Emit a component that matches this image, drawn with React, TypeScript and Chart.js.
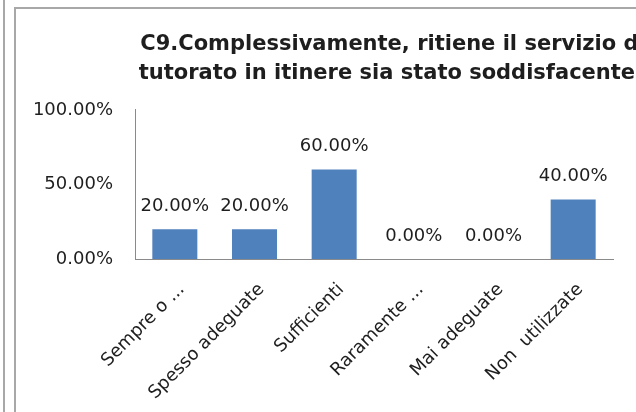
import React, { useEffect, useRef } from "react";
import { Chart, registerables } from "chart.js";

Chart.register(...registerables);

const titleLines = [
  "C9.Complessivamente, ritiene il servizio di",
  "tutorato in itinere sia stato soddisfacente?",
];
const categories = [
  "Sempre o ...",
  "Spesso adeguate",
  "Sufficienti",
  "Raramente ...",
  "Mai adeguate",
  "Non  utilizzate",
];
const values = [0.2, 0.2, 0.6, 0, 0, 0.4];
const yTicks = [0, 0.5, 1];

const CANVAS_W = 786;
const CANVAS_H = 430;
const TEXT = "#1e1e1e";
const AXIS = "#8a8a8a";
const BAR = "#4F81BD";
const FONT = "'DejaVu Sans', sans-serif";

const pct = (v: number) => (v * 100).toFixed(2) + "%";

const dataLabels = {
  id: "dataLabels",
  afterDatasetsDraw(chart: any) {
    const ctx = chart.ctx;
    const meta = chart.getDatasetMeta(0);
    const ds = chart.data.datasets[0];
    ctx.save();
    ctx.font = `18px ${FONT}`;
    ctx.fillStyle = TEXT;
    ctx.textAlign = "center";
    ctx.textBaseline = "middle";
    meta.data.forEach((el: any, i: number) => {
      ctx.fillText(pct(ds.data[i] as number), el.x, el.y - 23);
    });
    ctx.restore();
  },
};

export default function App() {
  const ref = useRef<HTMLCanvasElement | null>(null);

  useEffect(() => {
    document.body.style.margin = "0";
    document.body.style.overflow = "hidden";
    const canvas = ref.current!;
    const chart = new Chart(canvas, {
      type: "bar",
      data: {
        labels: categories,
        datasets: [
          {
            data: values,
            backgroundColor: BAR,
            categoryPercentage: 1,
            barPercentage: 0.565,
          },
        ],
      },
      options: {
        responsive: false,
        animation: false,
        layout: { padding: 0 },
        plugins: {
          legend: { display: false },
          tooltip: { enabled: false },
          title: {
            display: true,
            text: titleLines,
            color: TEXT,
            font: { family: "'DejaVu Sans', sans-serif", size: 21, weight: "bold", lineHeight: 1.38 },
            padding: { top: 30, bottom: 22 },
          },
        },
        scales: {
          x: {
            grid: { display: false },
            border: { display: true, color: AXIS, width: 1 },
            ticks: {
              autoSkip: false,
              maxRotation: 45,
              minRotation: 45,
              color: TEXT,
              font: { family: FONT, size: 18 },
              padding: 12,
              labelOffset: 7,
            },
            afterFit: (s: any) => {
              s.height = CANVAS_H - 259;
            },
          },
          y: {
            min: 0,
            max: 1,
            position: "left",
            grid: { display: false, drawTicks: false },
            border: { display: true, color: AXIS, width: 1 },
            afterBuildTicks: (s: any) => {
              s.ticks = yTicks.map((v) => ({ value: v }));
            },
            ticks: {
              color: TEXT,
              font: { family: FONT, size: 18 },
              padding: 22,
              callback: (v: any) => pct(Number(v)),
            },
            afterFit: (s: any) => {
              s.width = 135;
            },
          },
          y2: {
            type: "linear",
            position: "right",
            grid: { display: false, drawTicks: false },
            border: { display: false },
            ticks: { display: false },
            afterFit: (s: any) => {
              s.width = CANVAS_W - 613;
            },
          },
        },
      },
      plugins: [dataLabels],
    });
    return () => chart.destroy();
  }, []);

  return (
    <div
      style={{
        position: "fixed",
        left: 0,
        top: 0,
        width: 636,
        height: 412,
        overflow: "hidden",
        background: "#fff",
      }}
    >
      <canvas
        ref={ref}
        width={CANVAS_W}
        height={CANVAS_H}
        style={{ position: "absolute", left: 0, top: 0, width: CANVAS_W, height: CANVAS_H }}
      />
      <div
        style={{
          position: "absolute",
          left: 3,
          top: 0,
          width: 2,
          height: 412,
          background: "#a8a8a8",
          pointerEvents: "none",
        }}
      />
      <div
        style={{
          position: "absolute",
          left: 14,
          top: 7,
          width: 1000,
          height: 1000,
          borderLeft: "2px solid #a8a8a8",
          borderTop: "2px solid #a8a8a8",
          pointerEvents: "none",
        }}
      />
    </div>
  );
}
